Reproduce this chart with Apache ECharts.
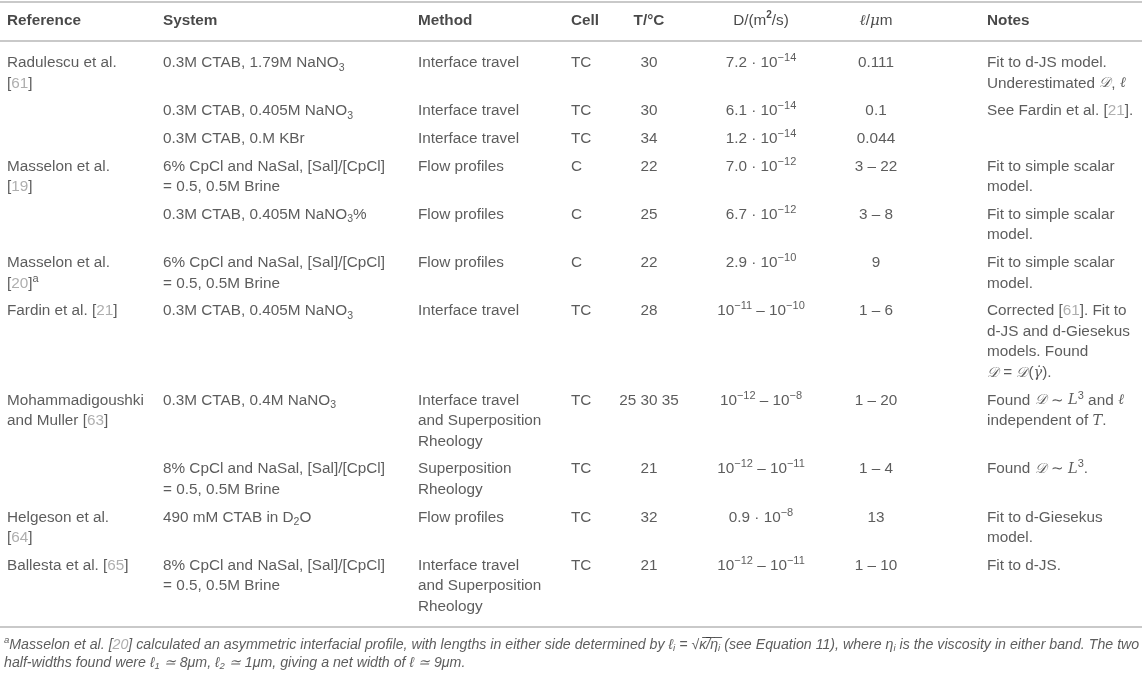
<!DOCTYPE html>
<html>
<head>
<meta charset="utf-8">
<title>Interface width measurements</title>
<script src="https://cdn.jsdelivr.net/npm/echarts@6/dist/echarts.min.js"></script>
<style>
  html, body { margin: 0; padding: 0; background: #fff; }
  #chart { width: 1142px; height: 676px; }
</style>
</head>
<body>
<div id="chart"></div>
<script>
// table content, one array per column ({sub|..} / {sup|..} / {c|..} are rich text tags)
const headers = ['Reference', 'System', 'Method', 'Cell', 'T/°C', '{hr|D/(m}{hsup|2}{hr|/s)}', '{hm|ℓ}{hr|/}{hm|μ}{hr|m}', 'Notes'];

const refs = [
  'Radulescu et al.\n[{c|61}]', '', '',
  'Masselon et al.\n[{c|19}]', '',
  'Masselon et al.\n[{c|20}]{sup|a}',
  'Fardin et al. [{c|21}]',
  'Mohammadigoushki\nand Muller [{c|63}]', '',
  'Helgeson et al.\n[{c|64}]',
  'Ballesta et al. [{c|65}]'
];

const systems = [
  '0.3M CTAB, 1.79M NaNO{sub|3}',
  '0.3M CTAB, 0.405M NaNO{sub|3}',
  '0.3M CTAB, 0.M KBr',
  '6% CpCl and NaSal, [Sal]/[CpCl]\n= 0.5, 0.5M Brine',
  '0.3M CTAB, 0.405M NaNO{sub|3}%',
  '6% CpCl and NaSal, [Sal]/[CpCl]\n= 0.5, 0.5M Brine',
  '0.3M CTAB, 0.405M NaNO{sub|3}',
  '0.3M CTAB, 0.4M NaNO{sub|3}',
  '8% CpCl and NaSal, [Sal]/[CpCl]\n= 0.5, 0.5M Brine',
  '490 mM CTAB in D{sub|2}O',
  '8% CpCl and NaSal, [Sal]/[CpCl]\n= 0.5, 0.5M Brine'
];

const methods = [
  'Interface travel', 'Interface travel', 'Interface travel',
  'Flow profiles', 'Flow profiles', 'Flow profiles',
  'Interface travel',
  'Interface travel\nand Superposition\nRheology',
  'Superposition\nRheology',
  'Flow profiles',
  'Interface travel\nand Superposition\nRheology'
];

const cells = ['TC', 'TC', 'TC', 'C', 'C', 'C', 'TC', 'TC', 'TC', 'TC', 'TC'];

const temps = ['30', '30', '34', '22', '25', '22', '28', '25 30 35', '21', '32', '21'];

const diffusions = [
  '7.2 · 10{sup|−14}', '6.1 · 10{sup|−14}', '1.2 · 10{sup|−14}',
  '7.0 · 10{sup|−12}', '6.7 · 10{sup|−12}', '2.9 · 10{sup|−10}',
  '10{sup|−11} – 10{sup|−10}', '10{sup|−12} – 10{sup|−8}', '10{sup|−12} – 10{sup|−11}',
  '0.9 · 10{sup|−8}', '10{sup|−12} – 10{sup|−11}'
];

const widths = ['0.111', '0.1', '0.044', '3 – 22', '3 – 8', '9', '1 – 6', '1 – 20', '1 – 4', '13', '1 – 10'];

const notes = [
  'Fit to d-JS model.\nUnderestimated {m|𝒟}, {m|ℓ}',
  'See Fardin et al. [{c|21}].',
  '',
  'Fit to simple scalar\nmodel.',
  'Fit to simple scalar\nmodel.',
  'Fit to simple scalar\nmodel.',
  'Corrected [{c|61}]. Fit to\nd-JS and d-Giesekus\nmodels. Found\n{m|𝒟} = {m|𝒟}({m|γ̇}).',
  'Found {m|𝒟} ∼ {m|L}{sup|3} and {m|ℓ}\nindependent of {m|T}.',
  'Found {m|𝒟} ∼ {m|L}{sup|3}.',
  'Fit to d-Giesekus\nmodel.',
  'Fit to d-JS.'
];

const footnote = '{fsup|a}Masselon et al. [{fc|20}] calculated an asymmetric interfacial profile, with lengths in either side determined by ℓ{fsub|i} = √κ̅/̅η̅{fsub|i} (see Equation 11), where η{fsub|i} is the viscosity in either band. The two\n' +
  'half-widths found were ℓ{fsub|1} ≃ 8μm, ℓ{fsub|2} ≃ 1μm, giving a net width of ℓ ≃ 9μm.';

const columns = [refs, systems, methods, cells, temps, diffusions, widths, notes];

// layout
const L = {
  colX: [7, 163, 418, 571, 649, 761, 876, 987],
  colAlign: ['left', 'left', 'left', 'left', 'center', 'center', 'center', 'left'],
  topRule: 2,
  headY: 21,
  headRule: 41,
  firstY: 63,
  lineH: 20.6,
  rowPad: 7,
  footLineH: 18,
  fontSize: 15.3,
  font: "'Liberation Sans', Arial, sans-serif",
  text: '#333',
  head: '#1a1a1a',
  cite: '#9a9a9a',
  rule: '#c9c9c9'
};

function lines(s) {
  return s ? s.split('\n').length : 1;
}

const textItems = [];

headers.forEach((h, ci) => {
  textItems.push({
    value: [L.colX[ci], L.headY - L.lineH / 2],
    text: h,
    label: { align: L.colAlign[ci], fontWeight: 'bold', color: L.head }
  });
});

let y = L.firstY;
let lastLine = y;
for (let r = 0; r < refs.length; r++) {
  let n = 1;
  columns.forEach((col, ci) => {
    n = Math.max(n, lines(col[r]));
    if (!col[r]) return;
    textItems.push({
      value: [L.colX[ci], y - L.lineH / 2],
      text: col[r],
      label: { align: L.colAlign[ci] }
    });
  });
  lastLine = y + (n - 1) * L.lineH;
  y += n * L.lineH + L.rowPad;
}
const bottomRule = lastLine + 20;

textItems.push({
  value: [4, bottomRule + 18 - L.footLineH / 2],
  text: footnote,
  label: { align: 'left', fontSize: 14.2, fontStyle: 'italic', lineHeight: L.footLineH }
});

const chart = echarts.init(document.getElementById('chart'));
chart.setOption({
  animation: false,
  grid: { left: 0, right: 0, top: 0, bottom: 0 },
  xAxis: { type: 'value', min: 0, max: 1142, show: false },
  yAxis: { type: 'value', min: 0, max: 676, inverse: true, show: false },
  series: [
    {
      type: 'scatter',
      symbolSize: 0,
      silent: true,
      data: textItems,
      label: {
        show: true,
        position: [0, 0],
        verticalAlign: 'top',
        fontFamily: L.font,
        fontSize: L.fontSize,
        lineHeight: L.lineH,
        color: L.text,
        formatter: p => p.data.text,
        rich: {
          sub: { fontSize: 10.5, lineHeight: 14, verticalAlign: 'bottom', fontFamily: L.font, color: L.text },
          sup: { fontSize: 11, lineHeight: 12, verticalAlign: 'top', fontFamily: L.font, color: L.text },
          hr: { fontSize: L.fontSize, fontWeight: 'normal', fontFamily: L.font, color: L.head, lineHeight: L.lineH },
          hsup: { fontSize: 10, lineHeight: 12, verticalAlign: 'top', fontFamily: L.font, color: L.head },
          hm: { fontSize: 15, fontStyle: 'italic', fontWeight: 'normal', fontFamily: 'DejaVu Serif', color: L.head, lineHeight: L.lineH },
          c: { color: L.cite, fontFamily: L.font, fontSize: L.fontSize, lineHeight: L.lineH },
          m: { fontStyle: 'italic', fontFamily: "'DejaVu Serif', serif", fontSize: 14.5, color: L.text, lineHeight: L.lineH },
          fsub: { fontSize: 9.5, lineHeight: 13, verticalAlign: 'bottom', fontStyle: 'italic', fontFamily: L.font, color: L.text },
          fsup: { fontSize: 9.5, lineHeight: 10, verticalAlign: 'top', fontStyle: 'italic', fontFamily: L.font, color: L.text },
          fc: { color: L.cite, fontSize: 14.2, fontStyle: 'italic', fontFamily: L.font, lineHeight: L.footLineH }
        }
      },
      markLine: {
        silent: true,
        symbol: ['none', 'none'],
        label: { show: false },
        lineStyle: { color: L.rule, width: 2, type: 'solid' },
        data: [{ yAxis: L.topRule }, { yAxis: L.headRule }, { yAxis: bottomRule }]
      }
    }
  ]
});
</script>
</body>
</html>
